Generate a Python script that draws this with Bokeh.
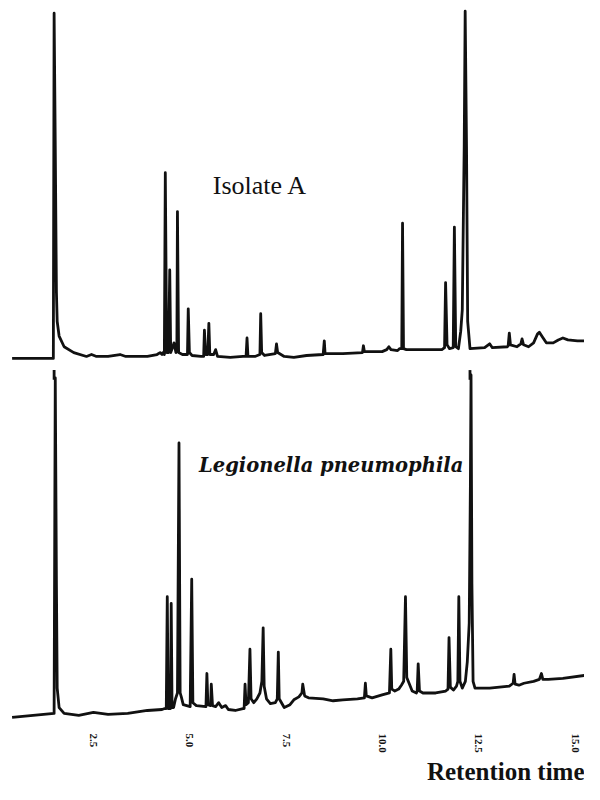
from bokeh.plotting import figure
from bokeh.models import Range1d, FixedTicker, Label, PrintfTickFormatter, Title
from bokeh.embed import file_html
from bokeh.resources import INLINE

# ---- data (retention time in min, signal above baseline in arbitrary units) ----
isolate_time = [0.39, 1.46, 1.48, 1.51, 1.54, 1.56, 1.61, 1.74, 1.99, 2.32, 2.45, 2.58, 2.88, 3.19, 3.34,
                3.90, 4.15, 4.23, 4.28, 4.31, 4.34, 4.365, 4.40, 4.45, 4.48, 4.505, 4.56, 4.59, 4.64,
                4.665, 4.68, 4.71, 4.81, 4.91, 4.94, 4.96, 4.99, 5.06, 5.29, 5.36, 5.38, 5.41, 5.465,
                5.495, 5.52, 5.62, 5.67, 5.72, 6.05, 6.38, 6.46, 6.485, 6.51, 6.69, 6.82, 6.84, 6.865,
                6.94, 7.22, 7.25, 7.28, 7.45, 7.70, 8.03, 8.46, 8.49, 8.51, 8.97, 9.48, 9.505, 9.53,
                9.99, 10.11, 10.165, 10.22, 10.39, 10.44, 10.50, 10.52, 10.545, 10.62, 11.54, 11.61,
                11.637, 11.675, 11.74, 11.835, 11.865, 11.90, 11.97, 12.03, 12.07, 12.12, 12.145,
                12.18, 12.21, 12.27, 12.65, 12.78, 12.85, 13.24, 13.26, 13.29, 13.32, 13.49, 13.59,
                13.62, 13.66, 13.79, 13.92, 14.02, 14.07, 14.15, 14.25, 14.43, 14.56, 14.68, 14.81,
                15.06, 15.24]
isolate_signal = [0, 0, 355, 218, 68, 38, 23, 12, 6, 2, 4, 2, 2, 4, 2,
                  2, 4, 6, 4, 6, 4, 191, 6, 6, 91, 6, 12, 16, 6,
                  8, 151, 6, 4, 4, 4, 51, 6, 3, 2, 2, 29, 4, 4,
                  36, 4, 4, 9, 2, 1, 2, 2, 21, 2, 2, 4, 46, 6,
                  3, 5, 15, 6, 2, 1, 3, 4, 18, 5, 5, 6, 13, 7,
                  7, 9, 12, 9, 8, 10, 10, 139, 10, 9, 9, 11,
                  78, 14, 10, 11, 135, 12, 10, 28, 50, 218, 357,
                  218, 38, 10, 11, 15, 11, 12, 13, 26, 14, 12, 15,
                  20, 14, 12, 16, 25, 27, 22, 16, 16, 19, 21, 19,
                  18, 18]

legionella_time = [0.39, 1.48, 1.51, 1.54, 1.56, 1.61, 1.74, 2.12, 2.50, 2.88, 3.39, 3.90, 4.28, 4.35,
                   4.39, 4.416, 4.44, 4.50, 4.518, 4.54, 4.58, 4.63, 4.68, 4.72, 4.75, 4.78, 4.83,
                   5.01, 5.05, 5.08, 5.17, 5.42, 5.444, 5.47, 5.54, 5.558, 5.59, 5.67, 5.75, 5.83,
                   5.93, 6.00, 6.18, 6.38, 6.41, 6.434, 6.46, 6.52, 6.561, 6.59, 6.66, 6.74, 6.82,
                   6.87, 6.904, 6.93, 6.99, 7.09, 7.22, 7.27, 7.297, 7.32, 7.45, 7.60, 7.70, 7.83,
                   7.91, 7.931, 7.98, 8.08, 8.46, 8.72, 8.97, 9.35, 9.53, 9.556, 9.58, 9.73, 9.99,
                   10.18, 10.216, 10.24, 10.32, 10.42, 10.49, 10.55, 10.596, 10.63, 10.70, 10.77,
                   10.88, 10.90, 10.926, 10.96, 11.05, 11.38, 11.64, 11.70, 11.726, 11.76, 11.84,
                   11.92, 11.955, 11.98, 12.01, 12.07, 12.15, 12.20, 12.25, 12.28, 12.297, 12.32,
                   12.35, 12.40, 12.78, 13.29, 13.39, 13.414, 13.44, 13.54, 13.67, 13.92, 14.07,
                   14.124, 14.16, 14.30, 14.68, 15.24]
legionella_signal = [-2, 2, 347, 135, 28, 8, 2, 0, 3, 1, 2, 5, 6, 7,
                     7, 122, 7, 7, 115, 8, 8, 17, 23, 280, 23, 19, 11,
                     9, 140, 13, 10, 9, 43, 11, 10, 32, 10, 9, 13, 8,
                     10, 6, 5, 7, 7, 32, 11, 13, 68, 17, 13, 17, 23,
                     35, 90, 30, 17, 12, 13, 17, 65, 17, 8, 11, 16, 19,
                     23, 32, 20, 18, 17, 15, 16, 17, 18, 33, 20, 18, 21,
                     23, 68, 27, 25, 27, 31, 35, 122, 39, 32, 25,
                     23, 25, 53, 25, 23, 23, 25, 27, 80, 29, 26,
                     30, 35, 122, 35, 28, 35, 55, 95, 235, 350, 135,
                     35, 28, 28, 30, 33, 42, 32, 31, 33, 35, 37,
                     43, 37, 37, 38, 41]

marker_times = [1.48, 12.27]          # event marks under the upper trace
tick_values = [2.5, 5.0, 7.5, 10.0, 12.5, 15.0]
tick_labels = ["2.5", "5.0", "7.5", "10.0", "12.5", "15.0"]

# ---- layout constants ----
TOP_OFFSET = 372.3
BOTTOM_OFFSET = 5.3
INK = "#111111"

p = figure(width=584, height=784,
           x_range=Range1d(0.089, 15.241), y_range=Range1d(0, 740.3),
           output_backend="svg", toolbar_location=None, y_axis_location=None,
           min_border_left=0, min_border_right=0, min_border_top=0, min_border_bottom=60)
p.grid.visible = False
p.outline_line_color = None
p.background_fill_color = "white"
p.border_fill_color = "white"

ax = p.xaxis[0]
ax.ticker = FixedTicker(ticks=tick_values)
ax.formatter = PrintfTickFormatter(format="%.1f")
ax.major_label_overrides = {v: l for v, l in zip(tick_values, tick_labels)}
ax.axis_line_color = None
ax.major_tick_line_color = None
ax.minor_tick_line_color = None
ax.major_tick_out = 0
ax.major_tick_in = 0
ax.major_label_standoff = 13
ax.major_label_orientation = "vertical"
ax.major_label_text_font = "Liberation Serif"
ax.major_label_text_font_style = "bold"
ax.major_label_text_font_size = "11px"
ax.major_label_text_color = INK

p.line(x=isolate_time, y=[s + TOP_OFFSET for s in isolate_signal],
       line_width=2.8, line_color=INK, line_join="round")
p.line(x=legionella_time, y=[s + BOTTOM_OFFSET for s in legionella_signal],
       line_width=2.8, line_color=INK, line_join="round")
p.segment(x0=marker_times, x1=marker_times,
          y0=[TOP_OFFSET - 12] * len(marker_times), y1=[TOP_OFFSET - 22] * len(marker_times),
          line_width=2.8, line_color=INK)

p.add_layout(Label(x=5.597, y=550.3, text="Isolate A", text_font="Liberation Serif",
                   text_font_size="26px", text_color=INK, text_baseline="alphabetic"))
p.add_layout(Label(x=5.241, y=262.3, text="Legionella pneumophila", text_font="DejaVu Serif",
                   text_font_style="bold italic", text_font_size="19.5px", text_color=INK,
                   text_baseline="alphabetic"))
p.add_layout(Title(text="Retention time", align="right", text_font="Liberation Serif",
                   text_font_style="bold", text_font_size="25px", text_color=INK,
                   standoff=0), "below")

open("out.html", "w").write(file_html(p, INLINE))
